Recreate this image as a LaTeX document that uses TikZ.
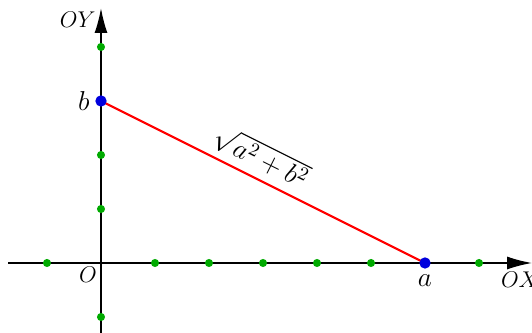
\documentclass[tikz,border=0pt]{standalone}
\usetikzlibrary{arrows.meta, positioning, backgrounds}
\usepackage{xcolor}
\usepackage{amsmath}
\definecolor{dotgreen}{HTML}{00AA00}
\definecolor{dotblue}{HTML}{0000DD}
\tikzset{
  axis/.style={thick, -{Latex[length=4.6mm, width=2.4mm]}},
  axislabel/.style={font=\large},
  griddot/.style={circle, fill=dotgreen, inner sep=0pt, minimum size=1.5mm},
  enddot/.style={circle, fill=dotblue, inner sep=0pt, minimum size=2.1mm},
  endlabel/.style={font=\Large, inner sep=1pt},
  hyp/.style={line width=1.1pt, red},
}

\begin{document}
\begin{tikzpicture}
\useasboundingbox (-1.870,-1.296) rectangle (7.981,4.870);
\coordinate (xs) at (-1.72,0);
\coordinate (xe) at (7.981,0);
\coordinate (ys) at (0,-1.296);
\coordinate (ye) at (0,4.72);
\draw[axis] (xs) -- (xe);
\draw[axis] (ys) -- (ye);
\node[axislabel] (oy) at (-0.43,4.5) {$OY$};
\node[axislabel] (ox) at (7.76,-0.31) {$OX$};
\node[axislabel] (O) at (-0.24,-0.22) {$O$};
% points on the axes
\foreach \x in {-1,1,2,3,4,5,7}
  \node[griddot] at (\x,0) {};
\foreach \y in {-1,1,2,4}
  \node[griddot] at (0,\y) {};
\node[enddot] (b) at (0,3) {};
\node[enddot] (a) at (6,0) {};
\node[endlabel, left=0.6mm of b] {$b$};
\node[endlabel, below=0.6mm of a] {$a$};
\begin{scope}[on background layer]
\draw[hyp] (b.center) -- node[pos=0.465, above, sloped, font=\Large, black] {$\sqrt{a^2+b^2}$} (a.center);
\end{scope}
\end{tikzpicture}
\end{document}
